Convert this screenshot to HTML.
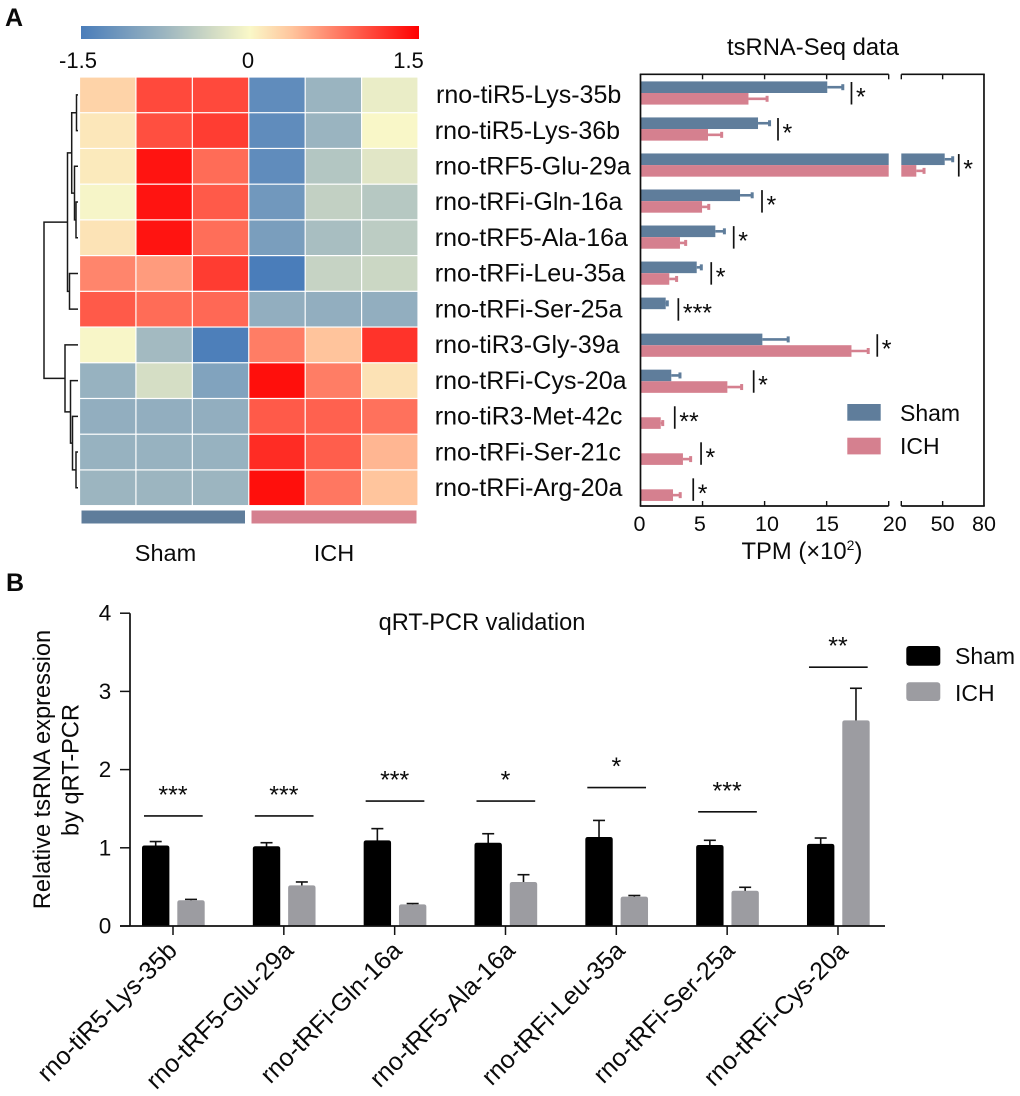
<!DOCTYPE html>
<html lang="en">
<head>
<meta charset="utf-8">
<title>tsRNA heatmap, sequencing and qRT-PCR validation</title>
<style>
html,body{margin:0;padding:0;background:#fff;}
svg{display:block;font-family:"Liberation Sans",Arial,sans-serif;}
text{fill:#0a0a0a;}
</style>
</head>
<body>
<svg id="fig" xmlns="http://www.w3.org/2000/svg" width="1020" height="1096" viewBox="0 0 1020 1096">
  <defs>
    <linearGradient id="cbar" x1="0" x2="1" y1="0" y2="0">
      <stop offset="0" stop-color="#4A7DBA"/>
      <stop offset="0.25" stop-color="#9DB6C0"/>
      <stop offset="0.5" stop-color="#FAF8C8"/>
      <stop offset="0.625" stop-color="#FFC49C"/>
      <stop offset="0.75" stop-color="#FF8068"/>
      <stop offset="1" stop-color="#FF0000"/>
    </linearGradient>
  </defs>
  <rect x="0" y="0" width="1020" height="1096" fill="#fff"/>
  <text x="5" y="26" font-size="25" font-weight="bold">A</text>
  <text x="6" y="591" font-size="25" font-weight="bold">B</text>

  <rect x="81" y="26" width="338" height="13" fill="url(#cbar)"/>
  <text x="78" y="68" font-size="22" text-anchor="middle">-1.5</text>
  <text x="248" y="68" font-size="22" text-anchor="middle">0</text>
  <text x="408.5" y="68" font-size="22" text-anchor="middle">1.5</text>

  <rect x="81.5" y="510.5" width="163.5" height="13" fill="#5F7D9B"/>
  <rect x="251.5" y="510.5" width="165" height="13" fill="#D5808F"/>
  <text x="165.5" y="561" font-size="23.5" text-anchor="middle">Sham</text>
  <text x="334" y="561" font-size="23.5" text-anchor="middle">ICH</text>

  <text x="813" y="55" font-size="23.8" text-anchor="middle">tsRNA-Seq data</text>
  <text x="741.5" y="559" font-size="23.8">TPM (×10<tspan font-size="14" dy="-9">2</tspan><tspan dy="9">)</tspan></text>

  <rect x="847.3" y="404" width="33.4" height="16.7" fill="#5F7D9B"/>
  <rect x="847.3" y="437.7" width="33.4" height="16.7" fill="#D5808F"/>
  <text x="900" y="421" font-size="23">Sham</text>
  <text x="900" y="454" font-size="23">ICH</text>

  <text x="482" y="630" font-size="23.6" text-anchor="middle">qRT-PCR validation</text>
  <text transform="translate(50 769.5) rotate(-90)" font-size="23.6" text-anchor="middle">Relative tsRNA expression</text>
  <text transform="translate(78.5 770) rotate(-90)" font-size="23.6" text-anchor="middle">by qRT-PCR</text>

  <rect x="906.3" y="646" width="34" height="19.7" rx="3" fill="#000"/>
  <rect x="906.3" y="682.3" width="34" height="18.7" rx="3" fill="#9C9CA1"/>
  <text x="955" y="664" font-size="23">Sham</text>
  <text x="955" y="701" font-size="23">ICH</text>
</svg>
<script>
/* ---------- Heatmap data ---------- */
const heatRows = ["rno-tiR5-Lys-35b","rno-tiR5-Lys-36b","rno-tRF5-Glu-29a","rno-tRFi-Gln-16a","rno-tRF5-Ala-16a","rno-tRFi-Leu-35a","rno-tRFi-Ser-25a","rno-tiR3-Gly-39a","rno-tRFi-Cys-20a","rno-tiR3-Met-42c","rno-tRFi-Ser-21c","rno-tRFi-Arg-20a"];
const heatValues = [
  [0.27,1.07,1.07,-1.3,-0.78,-0.13],
  [0.12,1.04,1.14,-1.3,-0.78,-0.01],
  [0.1,1.38,0.87,-1.3,-0.57,-0.2],
  [-0.03,1.38,0.97,-1.15,-0.45,-0.55],
  [0.15,1.38,0.855,-1.07,-0.66,-0.5],
  [0.72,0.6,1.15,-1.5,-0.42,-0.38],
  [0.97,0.87,0.89,-0.85,-0.85,-0.85],
  [-0.02,-0.7,-1.47,0.77,0.375,1.2],
  [-0.8,-0.3,-1.0,1.41,0.77,0.16],
  [-0.85,-0.85,-0.85,0.97,0.93,0.84],
  [-0.8,-0.8,-0.8,1.24,0.95,0.45],
  [-0.76,-0.76,-0.76,1.41,0.8,0.37]
];
/* Dendrogram merges: [childA, childB, height]; child >= 0 is a row, child < 0 is merge -(n+1) */
const treeMerges = [
  [0,1,1.5],[3,4,2],[2,-2,3.5],[-1,-3,6.3],[5,6,8.5],[-4,-5,10.5],
  [10,11,2],[9,-7,5.5],[8,-8,7.5],[7,-9,13],[-6,-10,34]
];

/* ---------- tsRNA-Seq data (TPM x10^2) ---------- */
const seqSham = [15.05,9.47,51.5,8.02,6.03,4.53,2.03,9.82,2.48,0,0,0];
const seqShamErr = [1.25,0.93,5.8,0.98,0.73,0.37,0.13,2.08,0.7,0,0,0];
const seqIch = [8.7,5.44,30.9,4.96,3.18,2.32,0,17.0,7.0,1.63,3.42,2.62];
const seqIchErr = [1.5,1.1,5.6,0.54,0.46,0.59,0,1.35,1.15,0.16,0.62,0.58];
const seqSigLevel = [17.0,11.08,61.7,9.79,7.51,5.7,3.05,19.08,9.12,2.76,4.88,4.25];
const seqSigText = ["*","*","*","*","*","*","***","*","*","**","*","*"];
const seqTicksLow = [0,5,10,15,20];
const seqTicksHigh = [20,50,80];
const seqBreak = 20;

/* ---------- qRT-PCR data ---------- */
const pcrGroups = ["rno-tiR5-Lys-35b","rno-tRF5-Glu-29a","rno-tRFi-Gln-16a","rno-tRF5-Ala-16a","rno-tRFi-Leu-35a","rno-tRFi-Ser-25a","rno-tRFi-Cys-20a"];
const pcrSham = [1.03,1.02,1.095,1.065,1.138,1.036,1.05];
const pcrShamErr = [0.05,0.045,0.15,0.115,0.212,0.06,0.075];
const pcrIch = [0.33,0.52,0.277,0.563,0.375,0.45,2.63];
const pcrIchErr = [0.01,0.043,0.01,0.093,0.015,0.045,0.41];
const pcrSigLevel = [1.407,1.407,1.598,1.598,1.77,1.46,3.31];
const pcrSigText = ["***","***","***","*","*","***","**"];
const pcrTicks = [0,1,2,3,4];

/* ---------- helpers ---------- */
const NS = "http://www.w3.org/2000/svg";
const svg = document.getElementById("fig");
function mk(tag, attrs, txt){
  const el = document.createElementNS(NS, tag);
  for (const k in attrs) el.setAttribute(k, attrs[k]);
  if (txt !== undefined) el.textContent = txt;
  svg.appendChild(el);
  return el;
}
function line(x1,y1,x2,y2,color,w){
  return mk("line",{x1:x1,y1:y1,x2:x2,y2:y2,stroke:color,"stroke-width":w});
}
const INK = "#111";
const SEQ_BLUE = "#5F7D9B";
const SEQ_PINK = "#D5808F";
let el;

/* ---------- heatmap ---------- */
const heatX0 = 79.5, heatY0 = 77, heatCellW = 56.42, heatCellH = 35.72;
const heatStops = [[-1.5,[74,125,186]],[-0.75,[157,182,192]],[0,[250,248,200]],[0.375,[255,196,156]],[0.75,[255,128,104]],[1.5,[255,0,0]]];
function heatColor(v){
  const z = Math.max(-1.5, Math.min(1.5, v));
  for (let i = 0; i < heatStops.length - 1; i++){
    const a = heatStops[i], b = heatStops[i+1];
    if (z <= b[0]){
      const t = (z - a[0]) / (b[0] - a[0]);
      const c = a[1].map((q,j)=>Math.round(q + (b[1][j]-q)*t));
      return "rgb("+c.join(",")+")";
    }
  }
  return "rgb(255,0,0)";
}
function rowCenter(r){ return heatY0 + heatCellH*(r+0.5); }
heatValues.forEach((row,r)=>{
  row.forEach((v,c)=>{
    el = mk("rect",{x:heatX0+c*heatCellW+0.6,y:heatY0+r*heatCellH+0.6,width:heatCellW-1.2,height:heatCellH-1.2,fill:heatColor(v)});
    
    
  });
});
/* dendrogram */
const treeLeafX = 78;
const treeNodes = [];
function treePos(ch){
  if (ch >= 0) return {y:rowCenter(ch), x:treeLeafX};
  return treeNodes[-ch-1];
}
treeMerges.forEach(m=>{
  const a = treePos(m[0]), b = treePos(m[1]);
  const x = treeLeafX - m[2];
  el = mk("path",{d:"M"+a.x+" "+a.y+"H"+x+"V"+b.y+"H"+b.x,fill:"none",stroke:"#1a1a1a","stroke-width":1.5});
  
  
  treeNodes.push({x:x,y:(a.y+b.y)/2});
});
/* row labels */
heatRows.forEach((name,r)=>{
  el = mk("text",{x:r===0?436:434.8,y:rowCenter(r)+8.2,"font-size":25},name);
  
  
});

/* ---------- tsRNA-Seq broken-axis bars ---------- */
const seqLeft = 640.5, seqUnitLow = 12.41, seqHighStart = 901.3, seqUnitHigh = 1.378;
const seqTop = 74.3, seqBottom = 506;
function seqX(v){
  return v <= seqBreak ? seqLeft + v*seqUnitLow : seqHighStart + (v-seqBreak)*seqUnitHigh;
}
function seqRowY(r){ return 93 + 36.03*r; }
function seqLabelNudge(t){
  if (t === 5) return -2.7;
  if (t === 10) return 2.4;
  if (t === 15) return 0.4;
  if (t === 20) return 6;
  return -1;
}
function seqBar(r, v, err, color, top, series){
  if (v <= 0) return;
  const h = 11.6, y = top;
  if (v > seqBreak){
    el = mk("rect",{x:seqLeft,y:y,width:seqX(seqBreak)-seqLeft,height:h,fill:color});
    
    
    el = mk("rect",{x:seqHighStart,y:y,width:seqX(v)-seqHighStart,height:h,fill:color});
    
    
  } else {
    el = mk("rect",{x:seqLeft,y:y,width:seqX(v)-seqLeft,height:h,fill:color});
    
    
  }
  el = line(seqX(v),y+h/2,seqX(v+err),y+h/2,color,2.6);
  
  
  el = line(seqX(v+err),y+h/2-3,seqX(v+err),y+h/2+3,color,3);
  
  
}
heatRows.forEach((name,r)=>{
  const mid = seqRowY(r);
  seqBar(r, seqSham[r], seqShamErr[r], SEQ_BLUE, mid-11.6, 'sham');
  seqBar(r, seqIch[r], seqIchErr[r], SEQ_PINK, mid, 'ich');
  const sx = seqX(seqSigLevel[r]);
  el = line(sx,mid-11,sx,mid+11.5,INK,1.7);
  
  
  el = mk("text",{x:sx+4.5,y:mid+12.5,"font-size":25},seqSigText[r]);
  
  
});
/* axis frame */
el = line(seqLeft,seqTop,seqLeft,seqBottom,INK,1.7);


el = line(seqX(80),seqTop,seqX(80),seqBottom,INK,1.7);


[seqTop,seqBottom].forEach(y=>{
  el = line(seqLeft-0.8,y,seqX(seqBreak),y,INK,1.7);
  
  
  el = line(seqHighStart,y,seqX(80)+0.8,y,INK,1.7);
  
  
});
function seqTick(x){
  el = line(x,seqTop,x,seqTop+5,INK,1.4);
  
  
  el = line(x,seqBottom,x,seqBottom-5,INK,1.4);
  
  
}
seqTicksLow.forEach(t=>{
  const x = seqX(t);
  if (t > 0) seqTick(x);
  el = mk("text",{x:x+seqLabelNudge(t),y:531,"font-size":21.5,"text-anchor":"middle"},String(t));
  
  
});
seqTicksHigh.forEach((t,i)=>{
  const x = i === 0 ? seqHighStart : seqX(t);
  if (i < 2) seqTick(x);
  if (i > 0){
    el = mk("text",{x:x,y:531,"font-size":21.5,"text-anchor":"middle"},String(t));
    
    
  }
});

/* ---------- qRT-PCR grouped bars ---------- */
const pcrZero = 926, pcrUnit = 78.2, pcrFirst = 173, pcrStep = 110.83, pcrBarW = 27.4;
function pcrY(v){ return pcrZero - v*pcrUnit; }
function pcrX(g){ return pcrFirst + g*pcrStep; }
function pcrLabelNudge(g){
  if (g === 0) return 5.5;
  if (g === 1) return 11;
  if (g === 2) return 8.5;
  if (g === 3) return 11;
  if (g === 4) return 10;
  if (g === 5) return 9;
  return 11.5;
}
function pcrBar(x, v, err, color, series){
  const top = pcrY(v), cx = x + pcrBarW/2;
  el = line(cx,top+2,cx,pcrY(v+err),INK,1.6);
  
  
  el = line(cx-6,pcrY(v+err),cx+6,pcrY(v+err),INK,1.6);
  
  
  el = mk("path",{d:"M"+x+" "+pcrZero+"V"+(top+2.5)+"Q"+x+" "+top+" "+(x+2.5)+" "+top+"H"+(x+pcrBarW-2.5)+"Q"+(x+pcrBarW)+" "+top+" "+(x+pcrBarW)+" "+(top+2.5)+"V"+pcrZero+"Z",fill:color});
  
  
}
pcrGroups.forEach((name,g)=>{
  const cx = pcrX(g);
  pcrBar(cx-31, pcrSham[g], pcrShamErr[g], "#000", 'sham');
  pcrBar(cx+4.3, pcrIch[g], pcrIchErr[g], "#9C9CA1", 'ich');
  const ly = pcrY(pcrSigLevel[g]);
  el = line(cx-29,ly,cx+29.7,ly,INK,1.6);
  
  
  el = mk("text",{x:cx,y:ly-12.5,"font-size":25,"text-anchor":"middle"},pcrSigText[g]);
  
  
  el = line(cx,pcrZero,cx,pcrZero+9,INK,1.5);
  
  
  el = mk("text",{transform:"translate("+(cx+pcrLabelNudge(g))+" 952) rotate(-45)","font-size":25,"text-anchor":"end"},name);
  
  
});
el = line(130,pcrY(4),130,pcrZero,INK,1.7);


el = line(120,pcrZero,885,pcrZero,INK,1.7);


pcrTicks.forEach(t=>{
  el = line(120,pcrY(t),130,pcrY(t),INK,1.5);
  
  
  el = mk("text",{x:105,y:pcrY(t)+7.5,"font-size":22.5,"text-anchor":"middle"},String(t));
  
  
});
</script>
</body>
</html>
